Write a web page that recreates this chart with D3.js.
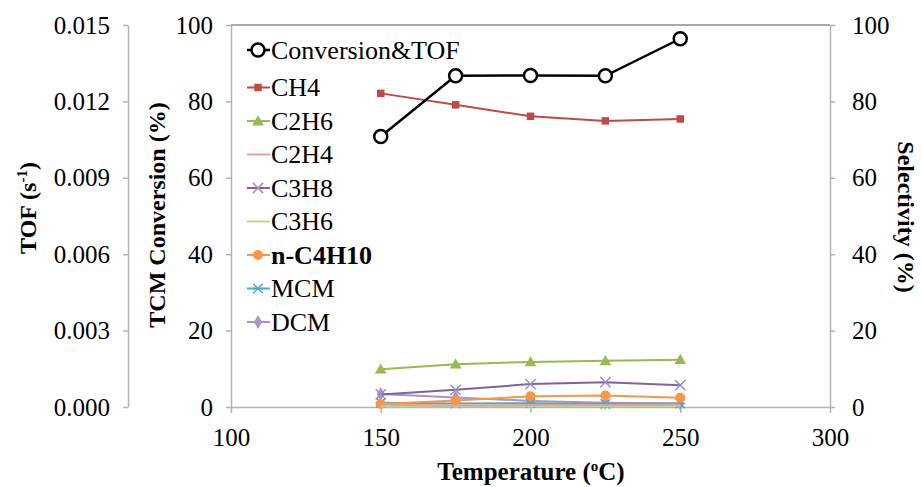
<!DOCTYPE html>
<html>
<head>
    <meta charset="UTF-8">
    <title>TCM conversion and selectivity</title>
    <script src="https://d3js.org/d3.v7.min.js"></script>
</head>
<body style="margin:0">
    <script>

        var w = 922;
        var h = 487;
        var serif = 'Liberation Serif';

        // temperatures (oC)
        var temps = [150, 175, 200, 225, 250];
        var xTicks = [100, 150, 200, 250, 300];
        var pctTicks = [0, 20, 40, 60, 80, 100];
        var tofTicks = [0, 0.003, 0.006, 0.009, 0.012, 0.015];

        // conversion on the left axis, selectivities on the right one
        var conversion = [70.8, 86.7, 86.8, 86.7, 96.4];
        var ch4 = [82.1, 79.1, 76.1, 74.9, 75.4];
        var c2h6 = [9.9, 11.2, 11.8, 12.1, 12.4];
        var c2h4 = [0.6, 0.4, 0.5, 0.5, 0.6];
        var c3h8 = [3.3, 4.5, 6.0, 6.5, 5.7];
        var c3h6 = [0.2, 0.2, 0.3, 0.2, 0.3];
        var nc4h10 = [0.8, 1.7, 2.8, 3.0, 2.4];
        var mcm = [1.1, 0.9, 1.0, 0.8, 0.9];
        var dcm = [3.4, 2.5, 1.6, 1.1, 0.9];

        var names = ['Conversion&TOF', 'CH4', 'C2H6', 'C2H4', 'C3H8', 'C3H6', 'n-C4H10', 'MCM', 'DCM'];
        var values = [conversion, ch4, c2h6, c2h4, c3h8, c3h6, nc4h10, mcm, dcm];
        var colors = ['#000000', '#be4b48', '#98b954', '#e0a1a0', '#7f63a1', '#bcd78f', '#f79646', '#4bacc6', '#a596c5'];
        var markers = ['ocircle', 'square', 'triangle', 'none', 'x', 'none', 'circle', 'star', 'diamond'];

        var svg = d3.select('body').append('svg').attr('width', w).attr('height', h);

        var x = d3.scaleLinear().domain([100, 300]).range([231, 830]);
        var y = d3.scaleLinear().domain([0, 100]).range([407, 25]);
        var yTof = d3.scaleLinear().domain([0, 0.015]).range([407, 25]);

        function styleAxis(g) {
            g.select('.domain').attr('stroke', '#b3b3b3').attr('stroke-width', 1.5);
            g.selectAll('.tick line').attr('stroke', '#b3b3b3').attr('stroke-width', 1.5);
            g.selectAll('.tick text').style('font-family', serif).attr('font-size', 25).attr('fill', '#000');
        }

        // top border of the plot area
        svg.append('line')
            .attr('x1', x(100)).attr('x2', x(300))
            .attr('y1', y(100)).attr('y2', y(100))
            .attr('stroke', '#8c8c8c').attr('stroke-width', 1.5);

        svg.append('g').attr('transform', 'translate(0,' + y(0) + ')')
            .call(d3.axisBottom(x).tickValues(xTicks).tickSize(6).tickPadding(15).tickSizeOuter(0))
            .call(styleAxis);

        svg.append('g').attr('transform', 'translate(' + x(100) + ',0)')
            .call(d3.axisLeft(y).tickValues(pctTicks).tickSize(5).tickPadding(13).tickSizeOuter(0))
            .call(styleAxis);

        svg.append('g').attr('transform', 'translate(' + x(300) + ',0)')
            .call(d3.axisRight(y).tickValues(pctTicks).tickSize(5).tickPadding(17).tickSizeOuter(0))
            .call(styleAxis);

        svg.append('g').attr('transform', 'translate(128,0)')
            .call(d3.axisLeft(yTof).tickValues(tofTicks).tickFormat(d3.format('.3f')).tickSize(5).tickPadding(13).tickSizeOuter(0))
            .call(styleAxis);

        // axis titles
        var tofTitle = svg.append('text')
            .attr('transform', 'translate(36,208) rotate(-90)')
            .attr('text-anchor', 'middle').style('font-family', serif)
            .attr('font-size', 24).attr('font-weight', 'bold');
        tofTitle.append('tspan').text('TOF (s');
        tofTitle.append('tspan').attr('font-size', 15).attr('dy', -9).text('-1');
        tofTitle.append('tspan').attr('dy', 9).text(')');

        svg.append('text')
            .attr('transform', 'translate(165,215) rotate(-90)')
            .attr('text-anchor', 'middle').style('font-family', serif)
            .attr('font-size', 24).attr('font-weight', 'bold')
            .text('TCM Conversion (%)');

        svg.append('text')
            .attr('transform', 'translate(898,217) rotate(90)')
            .attr('text-anchor', 'middle').style('font-family', serif)
            .attr('font-size', 24).attr('font-weight', 'bold')
            .text('Selectivity (%)');

        var tTitle = svg.append('text')
            .attr('x', 531).attr('y', 480)
            .attr('text-anchor', 'middle').style('font-family', serif)
            .attr('font-size', 25).attr('font-weight', 'bold');
        tTitle.append('tspan').text('Temperature (');
        tTitle.append('tspan').attr('font-size', 15).attr('dy', -9).text('o');
        tTitle.append('tspan').attr('dy', 9).text('C)');

        // marker drawing
        function drawMarker(g, type, color, cx, cy) {
            if (type === 'ocircle') {
                g.append('circle').attr('cx', cx).attr('cy', cy).attr('r', 6.5)
                    .attr('fill', '#fff').attr('stroke', color).attr('stroke-width', 2.5);
            } else if (type === 'circle') {
                g.append('circle').attr('cx', cx).attr('cy', cy).attr('r', 5).attr('fill', color);
            } else if (type === 'square') {
                g.append('path').attr('d', d3.symbol(d3.symbolSquare, 56)()).attr('transform', 'translate(' + cx + ',' + cy + ')').attr('fill', color);
            } else if (type === 'triangle') {
                g.append('path').attr('d', d3.symbol(d3.symbolTriangle, 60)()).attr('transform', 'translate(' + cx + ',' + (cy + 1) + ')').attr('fill', color);
            } else if (type === 'diamond') {
                g.append('path').attr('d', d3.symbol(d3.symbolDiamond, 55)()).attr('transform', 'translate(' + cx + ',' + cy + ')').attr('fill', color);
            } else if (type === 'x') {
                g.append('path').attr('d', d3.symbol(d3.symbolX, 70)()).attr('transform', 'translate(' + cx + ',' + cy + ')')
                    .attr('fill', 'none').attr('stroke', '#a08fc0').attr('stroke-width', 1.5);
            } else if (type === 'star') {
                g.append('path').attr('d', d3.symbol(d3.symbolX, 60)()).attr('transform', 'translate(' + cx + ',' + cy + ')')
                    .attr('fill', 'none').attr('stroke', color).attr('stroke-width', 1.5);
                g.append('line').attr('x1', cx - 5).attr('x2', cx + 5).attr('y1', cy).attr('y2', cy)
                    .attr('stroke', color).attr('stroke-width', 1.5);
            }
        }

        var line = d3.line()
            .x(function(d, i) { return x(temps[i]); })
            .y(function(d) { return y(d); });

        // draw series in reverse so that conversion sits on top
        for (var s = names.length - 1; s >= 0; s--) {
            var g = svg.append('g');
            g.append('path').datum(values[s])
                .attr('d', line)
                .attr('fill', 'none')
                .attr('stroke', colors[s])
                .attr('stroke-width', s === 0 ? 2.5 : 2);
            values[s].forEach(function(v, i) {
                drawMarker(g, markers[s], colors[s], x(temps[i]), y(v));
            });
        }

        // legend (first row sits a little higher than the rest)
        var leg = svg.append('g');
        names.forEach(function(n, i) {
            var ly = i === 0 ? 50 : 87.5 + (i - 1) * 33.5;
            leg.append('line').attr('x1', 247).attr('x2', 270).attr('y1', ly).attr('y2', ly)
                .attr('stroke', colors[i]).attr('stroke-width', i === 0 ? 2.5 : 2);
            drawMarker(leg, markers[i], colors[i], 258, ly);
            var t = leg.append('text').attr('x', 271).attr('y', ly).attr('dy', '0.34em')
                .style('font-family', serif)
                .attr('font-size', 26)
                .text(n);
            if (n === 'n-C4H10') t.attr('font-weight', 'bold');
        });

    </script>
</body>
</html>
